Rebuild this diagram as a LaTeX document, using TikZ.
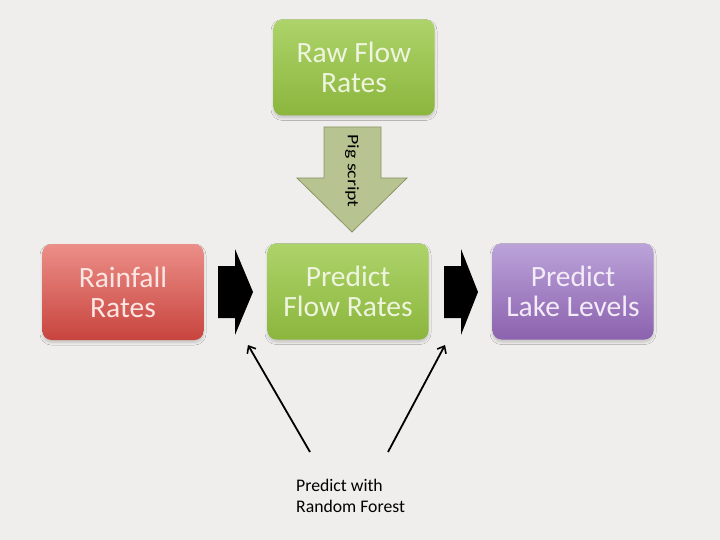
\documentclass[tikz,border=0pt]{standalone}
\usepackage{fontspec}
\setmainfont{Carlito}
\usetikzlibrary{arrows.meta,shadows.blur}
\definecolor{bg}{HTML}{F0EEEC}
\definecolor{gtop}{HTML}{ADD36A}
\definecolor{gbot}{HTML}{8BB63D}
\definecolor{rtop}{HTML}{EC8E88}
\definecolor{rbot}{HTML}{C8443E}
\definecolor{ptop}{HTML}{BBA3D9}
\definecolor{pbot}{HTML}{8B62AE}
\definecolor{gtext}{HTML}{EEF4DE}
\definecolor{rtext}{HTML}{FBE6E3}
\definecolor{ptext}{HTML}{F3EBF8}
\definecolor{pigfill}{HTML}{B7C391}
\definecolor{pigdraw}{HTML}{8B9566}
\tikzset{
  box/.style={rectangle, rounded corners=9pt, minimum width=161pt, minimum height=96pt,
    inner sep=0pt, align=center, font=\fontsize{29.5}{30}\selectfont,
    blur shadow={shadow xshift=0pt, shadow yshift=-2.5pt, shadow opacity=18, shadow blur radius=2.5pt, shadow blur steps=6}},
  greenbox/.style={box, top color=gtop, bottom color=gbot, text=gtext},
  redbox/.style={box, top color=rtop, bottom color=rbot, text=rtext},
  purplebox/.style={box, top color=ptop, bottom color=pbot, text=ptext},
  blockarrow/.style={fill=black, draw=none},
  pigarrow/.style={fill=pigfill, draw=pigdraw, line width=0.8pt},
  thinarrow/.style={draw=black, line width=1.8pt, -{Straight Barb[length=6pt,width=10pt,line width=1.6pt]}},
  note/.style={anchor=north west, inner sep=0pt, align=left, font=\fontsize{17.7}{21}\selectfont}
}
\begin{document}
\begin{tikzpicture}[x=1pt,y=-1pt]
\useasboundingbox (0,0) rectangle (720,540);
\fill[bg] (0,0) rectangle (720,540);

\node[greenbox] (raw) at (354,67.5) {Raw Flow\\Rates};
\node[redbox] (rain) at (123,292) {Rainfall\\Rates};
\node[greenbox] (flow) at (348,291.5) {Predict\\Flow Rates};
\node[purplebox] (lake) at (573,291.5) {Predict\\Lake Levels};

% Pig script arrow
\draw[pigarrow] (324,127) -- (381,127) -- (381,178) -- (407,178) -- (352,232) -- (297,178) -- (324,178) -- cycle;
\node[rotate=-90, inner sep=0pt, font=\fontsize{16}{16}\selectfont] (pig) at (352,171) {\scalebox{1.24}[1]{Pig script}};

% block arrows
\fill[blockarrow] (218,266) -- (235,266) -- (235,249) -- (253,292) -- (235,335) -- (235,318) -- (218,318) -- cycle;
\fill[blockarrow] (444,266) -- (461,266) -- (461,249) -- (478,292) -- (461,335) -- (461,318) -- (444,318) -- cycle;

% thin arrows
\coordinate (s1) at (310,452);
\coordinate (t1) at (248,345);
\coordinate (s2) at (388,452);
\coordinate (t2) at (445,345);
\draw[thinarrow] (s1) -- (t1);
\draw[thinarrow] (s2) -- (t2);

\node[note] (rf) at (296,479.5) {Predict with\\Random Forest};
\end{tikzpicture}
\end{document}
